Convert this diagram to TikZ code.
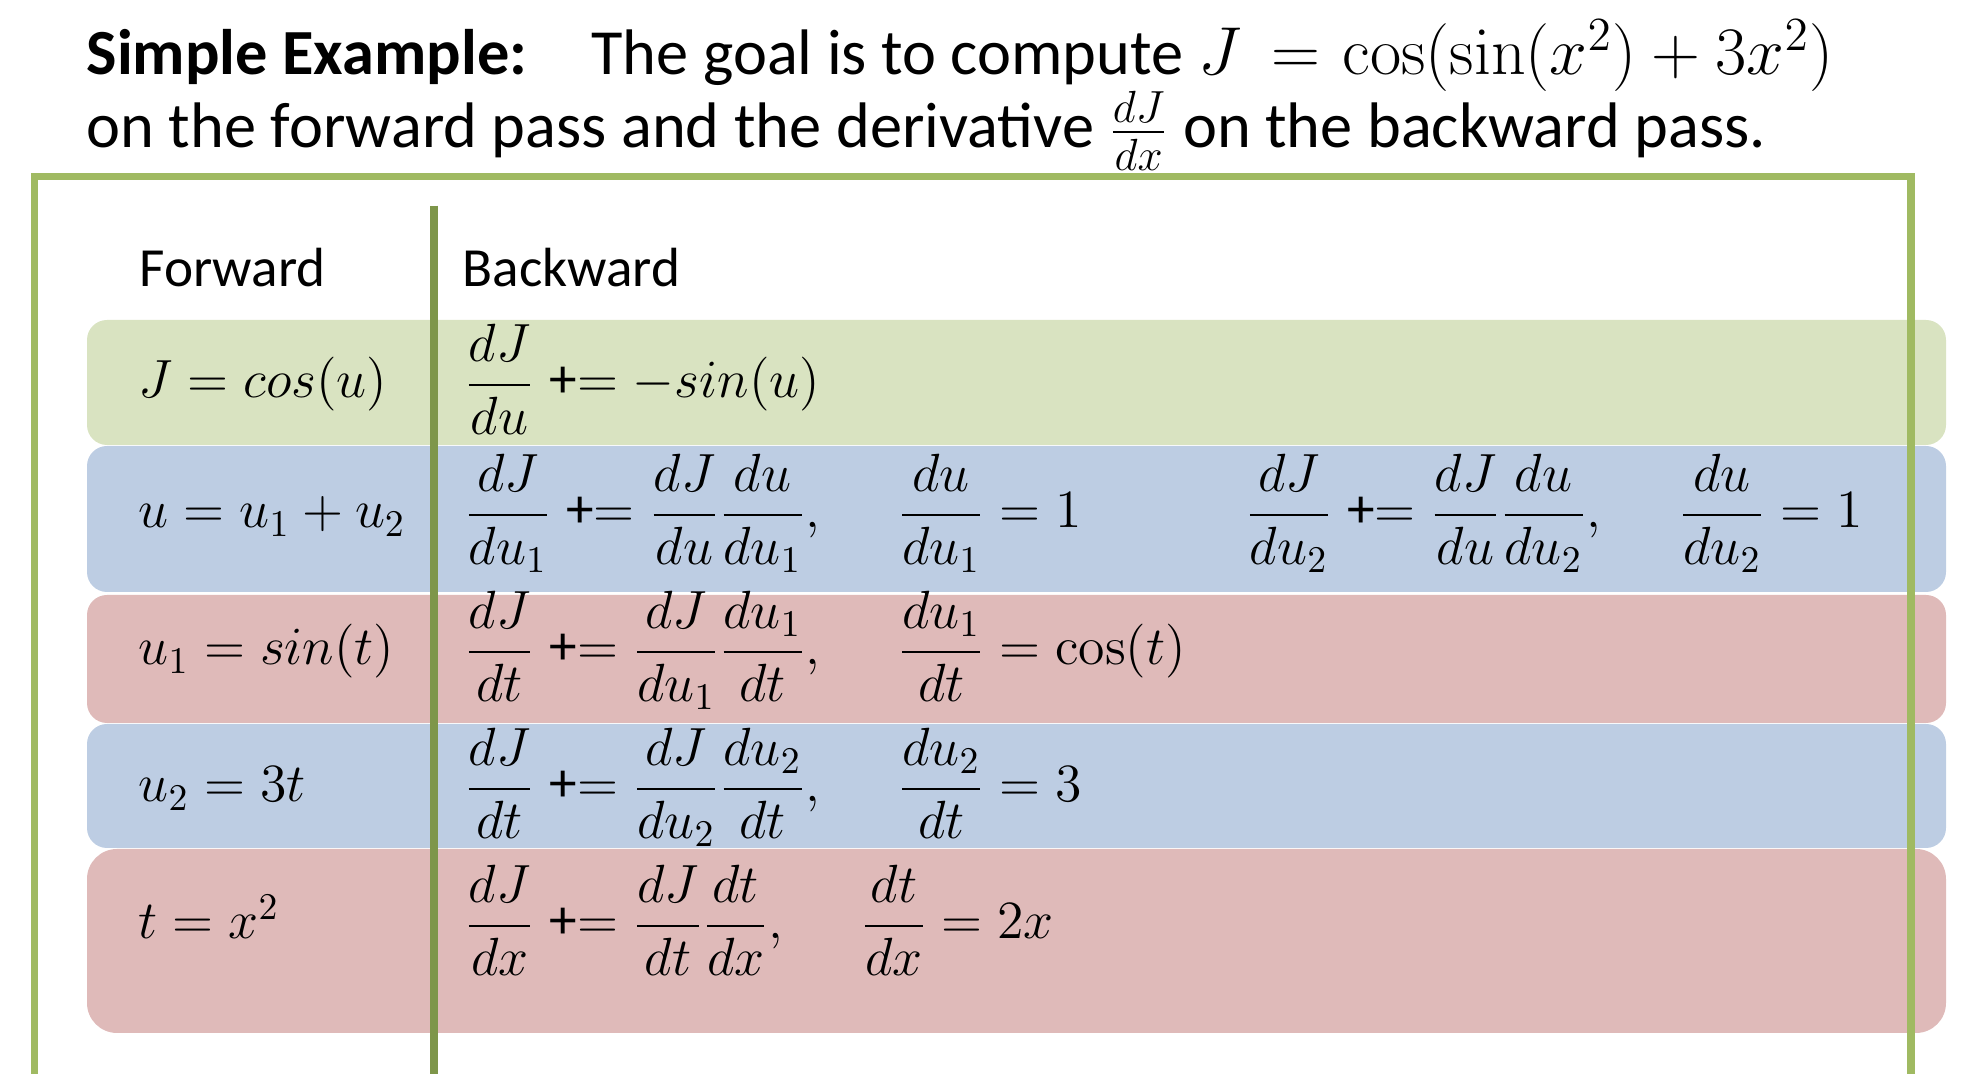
\RequirePackage{fix-cm}
\documentclass[tikz,border=0pt]{standalone}
\usepackage{amsmath}
\usepackage[no-math]{fontspec}
\setmainfont{Carlito}
\usetikzlibrary{positioning}

\definecolor{framegreen}{HTML}{A0BA62}
\definecolor{rulegreen}{HTML}{7E964A}
\definecolor{rowgreen}{HTML}{D9E3C1}
\definecolor{rowblue}{HTML}{BDCDE3}
\definecolor{rowred}{HTML}{DFBAB9}

\newcommand{\titlesize}{\fontsize{18.3}{21.9}\selectfont}
\newcommand{\titlemath}{\fontsize{19.3}{21.9}\selectfont}
\newcommand{\tabsize}{\fontsize{15.7}{18.8}\selectfont}
\newcommand{\mathsize}{\fontsize{15.3}{18.4}\selectfont}
\newcommand{\pluseq}{\mathrel{\text{\tabsize+}{=}}}

\begin{document}
\begin{tikzpicture}[x=0.01cm, y=-0.01cm, inner sep=0pt,
  fwd/.style={anchor=base west, font=\mathsize},
  bwd/.style={anchor=base west, font=\mathsize},
  head/.style={anchor=base west, font=\tabsize},
  band/.style={fill=#1, rounded corners=0.2cm}]
\tikzstyle{title}=[anchor=base west, font=\titlesize]

\useasboundingbox (0,0) rectangle (1962,1074);

\fill[band=rowgreen] (87,320) rectangle (1946,445);
\fill[band=rowblue]  (87,446) rectangle (1946,592);
\fill[band=rowred]   (87,595) rectangle (1946,723);
\fill[band=rowblue]  (87,724) rectangle (1946,848);
\fill[band=rowred, rounded corners=0.3cm] (87,849) rectangle (1946,1033);

\draw[framegreen, line width=2pt] (34.7,1074) -- (34.7,176.7) -- (1911,176.7) -- (1911,1074);
\draw[rulegreen, line width=2.3pt] (434,205.7) -- (434,1074);

\node[title] (title1) at (86,75) {\textbf{Simple Example:}\quad The goal is to compute {\titlemath$J\mkern3mu=\mkern1mu\cos(\sin(x^2) + 3x^2)$}};
\node[title] (title2) at (86,148) {on the forward pass and the derivative $\frac{dJ}{dx}$ on the backward pass.};

\node[head] (fwdhead) at (139,287) {Forward};
\node[head] (bwdhead) at (462,287) {Backward};

\node[fwd] (fwdJ)    at (138,398) {$J = cos(u)$};
\node[bwd] (bwdJ)    at (464,398) {$\displaystyle \frac{dJ}{du} \pluseq -sin(u)$};

\node[fwd] (fwdu)    at (138,528) {$u = u_1 + u_2$};
\node[bwd] (bwdua)   at (464,528) {$\displaystyle \frac{dJ}{du_1} \pluseq \frac{dJ}{du}\frac{du}{du_1},\quad\; \frac{du}{du_1} = 1$};
\node[bwd] (bwdub)   at (1245,528) {$\displaystyle \frac{dJ}{du_2} \pluseq \frac{dJ}{du}\frac{du}{du_2},\quad\; \frac{du}{du_2} = 1$};

\node[fwd] (fwduone) at (138,665) {$u_1 = sin(t)$};
\node[bwd] (bwduone) at (464,665) {$\displaystyle \frac{dJ}{dt} \pluseq \frac{dJ}{du_1}\frac{du_1}{dt},\quad\; \frac{du_1}{dt} = \cos(t)$};

\node[fwd] (fwdutwo) at (138,802) {$u_2 = 3t$};
\node[bwd] (bwdutwo) at (464,802) {$\displaystyle \frac{dJ}{dt} \pluseq \frac{dJ}{du_2}\frac{du_2}{dt},\quad\; \frac{du_2}{dt} = 3$};

\node[fwd] (fwdt)    at (138,939) {$t = x^2$};
\node[bwd] (bwdt)    at (464,939) {$\displaystyle \frac{dJ}{dx} \pluseq \frac{dJ}{dt}\frac{dt}{dx},\quad\; \frac{dt}{dx} = 2x$};

\end{tikzpicture}
\end{document}
